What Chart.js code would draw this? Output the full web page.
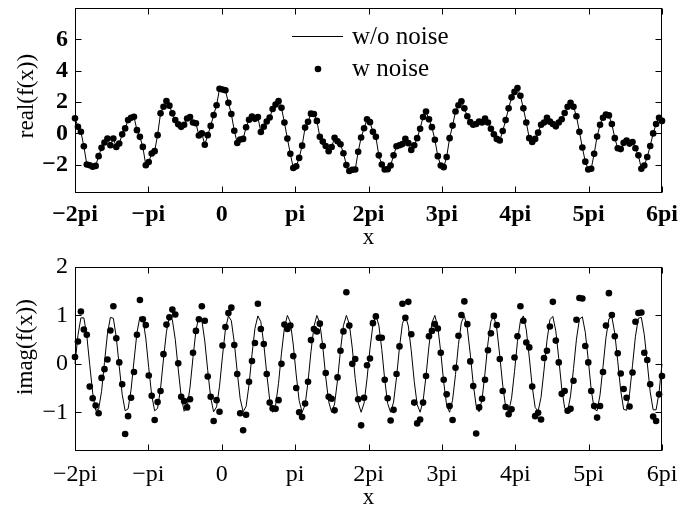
<!DOCTYPE html>
<html><head><meta charset="utf-8">
<script src="https://cdn.jsdelivr.net/npm/chart.js@4.4.0/dist/chart.umd.min.js"></script>
<style>
html,body{margin:0;padding:0;background:#fff;overflow:hidden;width:678px;height:506px;}
canvas{position:absolute;left:0;}
#c1{top:0;} #c2{top:250px;}
</style></head><body>
<canvas id="c1" width="678" height="250"></canvas>
<canvas id="c2" width="678" height="260"></canvas>
<script>
// ---- data (x in units of pi, 200 samples from -2pi to 6pi) ----
const xTickValues = [-2,-1,0,1,2,3,4,5,6];
const xTickLabels = ['\u22122pi','\u2212pi','0','pi','2pi','3pi','4pi','5pi','6pi'];
const topYTicks = [-2,0,2,4,6];
const bottomYTicks = [-1,0,1,2];
const seriesLabels = ['w/o noise','w noise'];
const nSamples = 200;

const realValues = [
0.96,0.43,0.11,-0.82,-1.98,-2.03,-2.13,-2.07,-1.45,-0.92,
-0.58,-0.32,-0.75,-0.32,-0.86,-0.64,-0.06,0.32,0.85,1.00,
1.06,0.21,-0.22,-0.86,-2.03,-1.82,-1.28,-1.13,-0.11,1.28,
1.70,2.07,1.77,1.28,0.85,0.58,0.42,0.55,0.95,1.05,
0.70,0.65,-0.13,0.00,-0.72,-0.11,0.48,1.17,1.80,2.85,
2.80,2.75,1.95,1.24,0.17,-0.61,-0.39,-0.35,0.39,0.87,
1.08,0.93,1.04,0.09,0.43,0.76,1.02,1.56,1.84,2.06,
1.63,0.69,-0.33,-1.30,-2.21,-2.10,-1.56,-0.78,0.37,0.74,
1.26,1.24,0.80,-0.22,-0.52,-0.80,-1.13,-0.87,-0.28,-0.50,
-0.69,-1.26,-2.02,-2.40,-2.32,-2.30,-1.17,-0.26,0.33,0.90,
0.72,0.10,-0.22,-1.40,-1.98,-2.30,-2.28,-2.05,-1.40,-0.82,
-0.75,-0.68,-0.35,-0.62,-1.05,-0.75,-0.30,0.30,1.05,1.40,
0.90,0.40,-0.40,-1.45,-2.05,-2.15,-1.50,-0.30,0.50,1.40,
1.80,2.05,1.60,1.10,0.72,0.55,0.60,0.75,0.70,0.95,
0.70,0.30,-0.05,-0.35,-0.45,0.15,0.85,1.60,2.30,2.65,
2.90,2.40,1.60,0.70,-0.30,-0.55,-0.35,0.05,0.55,0.70,
1.00,0.75,0.60,0.45,0.70,0.90,1.30,1.70,1.95,1.70,
1.10,0.10,-0.90,-1.80,-2.30,-2.25,-1.30,-0.20,0.55,1.00,
1.20,1.15,0.60,-0.30,-0.95,-1.00,-0.60,-0.45,-0.65,-0.55,
-0.95,-1.40,-2.25,-2.05,-1.50,-0.80,0.00,0.60,1.00,0.80
];

const imagClean = [
0,.59,.95,.95,.58,-.02,-.60,-.96,-.94,-.57,
.03,.62,.96,.94,.55,-.05,-.63,-.97,-.93,-.54,
.06,.64,.97,.93,.53,-.08,-.65,-.97,-.92,-.51,
.10,.66,.98,.91,.50,-.11,-.68,-.98,-.91,-.48,
.13,.69,.98,.90,.47,-.14,-.70,-.99,-.89,-.46,
.16,.71,.99,.89,.44,-.17,-.72,-.99,-.88,-.43,
.19,.73,.99,.87,.41,-.20,-.74,-1.00,-.86,-.40,
.22,.75,1.00,.86,.39,-.23,-.76,-1.00,-.85,-.37,
.25,.77,1.00,.84,.36,-.27,-.78,-1.00,-.83,-.34,
.28,.79,1.00,.82,.33,-.30,-.80,-1.00,-.81,-.31,
.31,.81,1.00,.80,.30,-.33,-.82,-1.00,-.79,-.28,
.34,.83,1.00,.78,.27,-.36,-.84,-1.00,-.77,-.25,
.37,.85,1.00,.76,.24,-.38,-.86,-1.00,-.75,-.22,
.40,.86,.99,.74,.20,-.41,-.87,-.99,-.73,-.19,
.43,.88,.99,.72,.17,-.44,-.89,-.99,-.71,-.16,
.46,.89,.99,.70,.14,-.47,-.90,-.98,-.69,-.13,
.48,.91,.98,.68,.11,-.50,-.91,-.98,-.66,-.10,
.51,.92,.97,.65,.08,-.53,-.93,-.97,-.64,-.06,
.54,.93,.97,.63,.05,-.55,-.94,-.96,-.62,-.03,
.57,.94,.96,.60,.02,-.58,-.95,-.95,-.59,0
];

const imagNoisy = [
0.14,0.46,1.08,0.71,0.60,-0.47,-0.71,-0.86,-1.02,-0.29,
-0.11,0.09,0.69,1.19,0.53,0.03,-0.42,-1.45,-1.08,-0.70,
-0.17,0.60,1.32,0.92,0.80,-0.24,-0.66,-1.16,-0.79,-0.56,
0.20,0.81,0.96,1.12,1.02,0.01,-0.68,-0.77,-0.90,-0.73,
0.23,0.68,0.92,1.19,0.89,-0.26,-0.68,-1.18,-0.75,-0.99,
0.38,0.76,1.05,1.16,0.39,-0.21,-1.02,-1.37,-1.05,-0.37,
0.06,0.43,1.24,0.72,0.41,-0.21,-0.80,-0.92,-0.93,-0.75,
0.00,0.81,0.72,0.79,0.16,-0.50,-1.00,-1.10,-0.82,-0.37,
0.49,0.72,0.67,0.83,0.37,-0.19,-0.68,-0.72,-0.96,-0.28,
0.27,0.67,1.48,0.79,0.00,0.10,-0.73,-1.27,-0.70,-0.03,
0.11,0.84,0.98,0.54,0.54,-0.33,-0.71,-1.17,-0.95,-0.21,
0.36,1.24,0.95,1.28,0.61,-0.80,-1.23,-1.15,-0.80,-0.25,
0.57,0.68,0.82,0.73,0.23,-0.33,-0.63,-0.87,-1.16,-0.08,
0.58,1.01,1.29,0.82,0.05,-0.46,-1.44,-0.90,-0.72,-0.33,
0.28,0.63,0.99,0.80,0.10,-0.56,-0.89,-1.04,-0.94,0.13,
0.57,1.19,0.89,0.44,0.34,-0.47,-1.08,-1.01,-1.15,0.12,
0.27,0.77,1.28,0.48,0.03,-0.62,-0.56,-0.97,-0.93,-0.35,
0.91,1.36,1.35,0.37,0.03,-0.56,-0.87,-1.11,-0.87,-0.17,
0.79,1.46,1.01,0.57,0.22,-0.20,-0.52,-0.70,-0.88,-0.18,
0.87,1.05,1.06,0.23,0.08,-0.42,-1.09,-1.18,-0.63,-0.25
];

// sample grid (units of pi)
const xs = Array.from({length:nSamples}, (_,i) => -2 + 8*i/(nSamples-1));
const pts = vals => vals.map((v,i) => ({x: xs[i], y: v}));

const serif = '"Liberation Serif", "Times New Roman", serif';
const TICK_FS = 24, LEG_FS = 25, TITLE_FS = 23;
const minus = v => String(v).replace('-', '\u2212');

const boxTicks = {
  id: 'boxTicks',
  beforeDatasetsDraw(chart) {
    const {ctx, chartArea: a, scales: {x, y}} = chart;
    ctx.save();
    ctx.strokeStyle = '#000'; ctx.lineWidth = 1;
    const L = Math.round(a.left) + 0.5, R = Math.round(a.right) - 0.5;
    const T = Math.round(a.top) + 0.5, B = Math.round(a.bottom) - 0.5;
    ctx.strokeRect(L, T, R - L, B - T);
    const tl = 6;
    ctx.beginPath();
    x.ticks.forEach(t => {
      const p = Math.round(x.getPixelForValue(t.value)) + 0.5;
      ctx.moveTo(p, B); ctx.lineTo(p, B - tl);
      ctx.moveTo(p, T); ctx.lineTo(p, T + tl);
    });
    y.ticks.forEach(t => {
      const p = Math.round(y.getPixelForValue(t.value)) + 0.5;
      ctx.moveTo(L, p); ctx.lineTo(L + tl, p);
      ctx.moveTo(R, p); ctx.lineTo(R - tl, p);
    });
    ctx.stroke();
    ctx.restore();
  }
};

// rotated y-axis title
const yTitlePlugin = {
  id: 'yTitlePlugin',
  afterDraw(chart, args, opts) {
    const {ctx, chartArea: a} = chart;
    ctx.save();
    ctx.font = TITLE_FS + 'px ' + serif; ctx.fillStyle = '#000';
    ctx.textAlign = 'center'; ctx.textBaseline = 'middle';
    ctx.translate(opts.cx, a.top + opts.dy);
    ctx.rotate(-Math.PI / 2);
    ctx.fillText(opts.text, 0, 0);
    ctx.restore();
  }
};

const legendBox = {
  id: 'legendBox',
  afterDatasetsDraw(chart, args, opts) {
    if (!opts.show) return;
    const {ctx, chartArea: a} = chart;
    const ds = chart.data.datasets;
    ctx.save();
    ctx.font = LEG_FS + 'px ' + serif; ctx.fillStyle = '#000';
    ctx.textBaseline = 'middle'; ctx.textAlign = 'left';
    ctx.strokeStyle = '#000'; ctx.lineWidth = 1;
    ctx.beginPath(); ctx.moveTo(a.left + 217, a.top + 28.5); ctx.lineTo(a.left + 268, a.top + 28.5); ctx.stroke();
    ctx.fillText(ds[0].label, a.left + 277, a.top + 29);
    ctx.beginPath(); ctx.arc(a.left + 243, a.top + 61, 3.3, 0, 2 * Math.PI); ctx.fill();
    ctx.fillText(ds[1].label, a.left + 277, a.top + 61);
    ctx.restore();
  }
};

function makeChart(id, cleanVals, noisyVals, cfg) {
  const bold = cfg.bold ? 'bold' : 'normal';
  return new Chart(document.getElementById(id), {
    type: 'scatter',
    data: {
      datasets: [
        {label: seriesLabels[0], data: pts(cleanVals), showLine: true, borderColor: '#000',
         borderWidth: 1, pointRadius: 0, tension: 0, order: 1, clip: false},
        {label: seriesLabels[1], data: pts(noisyVals), showLine: false, pointRadius: 3.3,
         pointBackgroundColor: '#000', pointBorderWidth: 0, order: 0, clip: false}
      ]
    },
    options: {
      responsive: false, animation: false, devicePixelRatio: 1,
      layout: {padding: {top: cfg.areaTop, right: 16, left: 0, bottom: 0}},
      plugins: {
        legend: {display: false}, tooltip: {enabled: false},
        yTitlePlugin: {text: cfg.yTitle, cx: cfg.yTitleX, dy: cfg.yTitleDy},
        legendBox: {show: cfg.legend}
      },
      scales: {
        x: {
          type: 'linear', min: -2, max: 6,
          afterBuildTicks: s => { s.ticks = xTickValues.map(v => ({value: v})); },
          afterFit: s => { s.height = cfg.canvasH - cfg.areaBottom; s.paddingLeft = 0; s.paddingRight = 0; },
          grid: {display: false, drawTicks: false}, border: {display: false},
          ticks: {color: '#000', padding: cfg.xPad, maxRotation: 0, autoSkip: false,
                  font: {family: serif, size: TICK_FS, weight: bold},
                  callback: v => xTickLabels[xTickValues.indexOf(v)]},
          title: {display: true, text: 'x', color: '#000', font: {family: serif, size: TITLE_FS},
                  padding: {top: 0, bottom: cfg.xTitlePad}}
        },
        y: {
          type: 'linear', min: cfg.yMin, max: cfg.yMax,
          afterBuildTicks: s => { s.ticks = cfg.yTicks.map(v => ({value: v})); },
          afterFit: s => { s.width = 75; s.paddingTop = 0; s.paddingBottom = 0; },
          grid: {display: false, drawTicks: false}, border: {display: false},
          ticks: {color: '#000', padding: 7, font: {family: serif, size: TICK_FS, weight: bold},
                  callback: v => minus(v)},
          title: {display: false}
        }
      }
    },
    plugins: [boxTicks, yTitlePlugin, legendBox]
  });
}

makeChart('c1', realValues, realValues, {
  bold: true, areaTop: 8, areaBottom: 193, canvasH: 250, xPad: 7, xTitlePad: -2,
  yMin: -3.8, yMax: 8, yTicks: topYTicks, yTitle: 'real(f(x))', yTitleX: 27, yTitleDy: 88, legend: true
});
makeChart('c2', imagClean, imagNoisy, {
  bold: false, areaTop: 17, areaBottom: 201, canvasH: 260, xPad: 9, xTitlePad: -2,
  yMin: -1.8, yMax: 2, yTicks: bottomYTicks, yTitle: 'imag(f(x))', yTitleX: 26, yTitleDy: 80, legend: false
});
</script>
</body></html>
